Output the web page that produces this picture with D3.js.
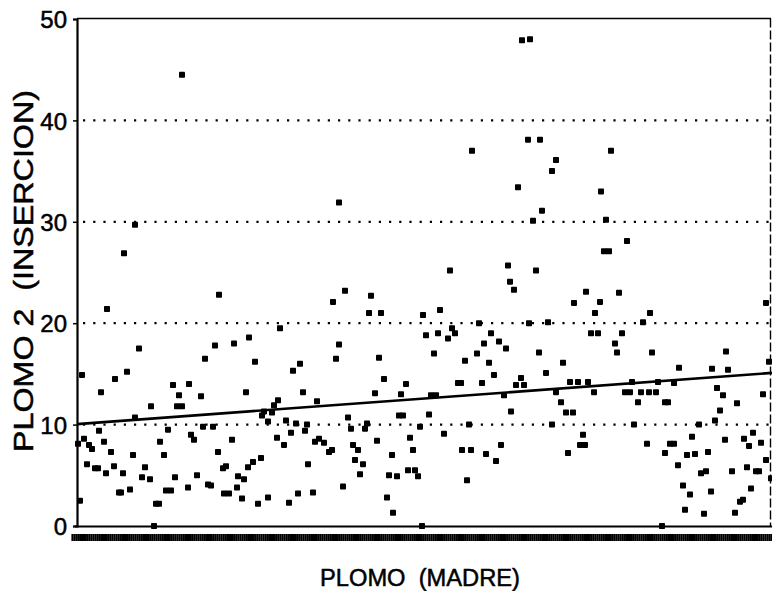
<!DOCTYPE html>
<html lang="es">
<head>
    <meta charset="UTF-8">
    <title>Plomo madre vs inserción</title>
    <script src="https://cdn.jsdelivr.net/npm/d3@7"></script>
    <style>
        body { margin: 0; background: #fff; }
        svg text { font-family: "Liberation Sans", Arial, sans-serif; fill: #000; stroke: #000; stroke-width: 0.5px; }
    </style>
</head>
<body>
<svg width="772" height="591"></svg>
<script>
    // plomo en la madre (eje x, sin escala impresa) y plomo 2 en la inserción (eje y)
    var plomoMadre = [
        5.8, 4.7, 3.0, 14.2, 6.2, 0.5, 3.8, 5.0, 2.4, 13.8,
        12.8, 15.7, 17.2, 17.8, 20.3, 21.6, 22.3, 22.6, 16.9, 9.6,
        11.2, 10.2, 12.4, 7.4, 10.0, 10.5, 5.8, 20.1, 19.7, 18.7,
        19.5, 18.5, 19.1, 20.9, 21.9, 23.0, 21.4, 22.8, 12.6, 13.6,
        9.1, 11.4, 11.7, 15.5, 8.3, 0.1, 0.7, 1.2, 1.5, 2.2,
        2.7, 3.4, 5.6, 8.7, 14.1, 20.0, 20.7, 18.4, 17.6, 17.1,
        14.9, 14.6, 1.0, 1.8, 2.1, 3.7, 2.9, 4.6, 6.8, 6.5,
        7.3, 9.8, 12.0, 13.1, 13.4, 16.1, 16.7, 23.1, 4.2, 4.4,
        5.3, 8.9, 9.4, 11.1, 14.7, 15.2, 16.0, 16.5, 18.1, 19.1,
        21.2, 22.1, 0.3, 7.9, 8.2, 7.7, 10.5,

        44.5, 45.3, 45.1, 46.3, 39.5, 44.1, 26.2, 45.6, 43.1, 45.9,
        37.3, 43.3, 43.7, 26.8, 25.6, 29.4, 29.2, 30.4, 34.6, 36.3,
        40.2, 45.2, 34.9, 36.1, 37.5, 37.8, 37.1, 41.4, 42.2, 40.7,
        42.9, 26.2, 25.9, 30.2, 35.7, 40.0, 38.8, 41.2, 46.2, 41.7,
        30.7, 32.9, 38.1, 38.4, 40.5, 44.4, 43.9, 44.7, 29.8, 32.4,
        35.4, 35.9, 24.0, 42.7, 43.4, 35.2, 32.2, 32.6, 27.1, 27.4,
        29.0, 28.8, 34.3, 39.2, 36.7, 23.8, 24.2, 24.7, 25.2, 25.5,
        27.6, 28.1, 30.0, 33.3, 33.6, 31.5, 27.8, 28.6, 28.3, 31.2,
        32.0, 33.1, 33.8, 34.1, 38.5, 39.4, 40.9, 42.4, 41.9, 39.0,
        26.6, 23.6, 31.0, 31.6, 34.5,

        47.9, 47.5, 53.4, 52.4, 46.5, 52.9, 55.0, 52.7, 53.2, 50.9,
        49.7, 52.3, 51.8, 54.2, 57.3, 68.9, 47.1, 56.6, 51.4, 52.1,
        54.5, 53.8, 54.0, 57.5, 48.6, 46.9, 64.9, 69.2, 60.2, 63.5,
        65.1, 49.3, 50.1, 51.1, 55.5, 58.1, 59.7, 47.9, 51.7, 54.8,
        55.3, 56.4, 57.2, 57.9, 56.1, 58.8, 59.1, 64.0, 64.6, 66.0,
        68.6, 48.4, 48.9, 49.6, 64.3, 63.8, 47.5, 55.7, 62.2, 61.5,
        67.6, 50.6, 50.3, 50.8, 57.0, 59.3, 59.7, 64.8, 66.7, 67.2,
        68.4, 49.1, 58.8, 61.0, 61.8, 63.1, 60.1, 68.9, 62.4, 62.9,
        65.5, 67.0, 67.9, 68.2, 69.4, 60.6, 61.3, 63.4, 67.4, 66.3,
        66.6, 60.8, 62.7, 65.8, 58.5
    ];
    var plomoInsercion = [
        29.7, 26.9, 21.4, 22.8, 17.5, 14.9, 14.5, 15.2, 13.2, 17.8,
        16.5, 18.0, 18.6, 16.2, 19.5, 15.3, 16.0, 13.2, 13.2, 13.9,
        14.0, 12.9, 12.8, 11.8, 11.8, 11.8, 10.7, 12.4, 11.9, 11.3,
        11.2, 10.9, 10.3, 10.4, 10.1, 10.0, 9.2, 9.4, 9.8, 9.8,
        9.5, 9.0, 8.5, 8.5, 8.3, 8.1, 8.6, 8.0, 7.6, 9.4,
        8.3, 7.3, 7.0, 7.0, 7.3, 8.7, 8.0, 6.7, 6.3, 5.8,
        5.9, 5.7, 6.1, 5.7, 5.7, 5.9, 5.2, 5.2, 5.8, 4.8,
        4.6, 4.8, 5.0, 4.1, 4.0, 4.9, 4.6, 6.1, 3.3, 3.3,
        3.6, 3.5, 3.5, 3.8, 3.2, 3.2, 3.8, 2.7, 2.2, 2.8,
        2.3, 3.2, 2.5, 2.2, 2.2, 0.0, 44.5,

        47.9, 48.0, 38.1, 38.1, 37.0, 33.4, 31.9, 30.1, 25.7, 25.2,
        25.2, 24.1, 23.3, 23.2, 22.1, 22.7, 21.0, 21.0, 20.8, 21.3,
        20.0, 20.0, 18.8, 19.0, 19.5, 19.0, 18.5, 19.0, 18.2, 18.0,
        17.5, 17.9, 16.5, 16.6, 17.0, 17.0, 16.3, 16.1, 17.1, 14.9,
        14.5, 14.0, 14.1, 14.1, 14.1, 14.6, 13.9, 13.9, 13.1, 13.0,
        12.9, 12.9, 12.3, 12.9, 11.3, 11.0, 10.9, 10.9, 10.7, 9.6,
        10.1, 9.6, 9.8, 10.0, 9.1, 8.3, 8.6, 8.2, 7.3, 7.5,
        8.0, 7.5, 8.4, 8.7, 7.5, 7.0, 6.5, 6.1, 5.1, 5.0,
        4.9, 5.5, 5.5, 4.9, 7.5, 7.5, 7.1, 8.0, 6.4, 4.5,
        3.9, 3.3, 2.8, 1.3, 0.0,

        36.1, 35.0, 37.0, 33.0, 31.1, 30.2, 28.1, 27.1, 27.1, 23.1,
        22.0, 22.1, 21.0, 23.0, 21.0, 22.0, 20.1, 20.1, 19.0, 19.0,
        19.0, 18.0, 17.1, 17.1, 16.1, 15.1, 17.2, 16.2, 15.6, 15.5,
        15.4, 14.2, 14.2, 14.2, 14.2, 14.2, 14.1, 13.2, 13.2, 13.2,
        13.2, 13.2, 13.2, 13.2, 12.2, 12.2, 12.2, 13.6, 12.9, 12.1,
        13.0, 12.2, 11.2, 11.2, 11.4, 10.4, 10.0, 10.0, 10.0, 8.8,
        9.2, 9.0, 8.0, 8.0, 8.1, 8.1, 8.1, 8.5, 8.6, 7.9,
        8.2, 7.2, 7.2, 7.0, 7.1, 7.3, 6.0, 6.5, 5.2, 5.4,
        5.4, 5.8, 5.4, 5.4, 4.7, 4.0, 3.1, 3.4, 3.7, 2.4,
        2.6, 1.6, 1.2, 1.3, 0.0
    ];
    // recta de regresión: extremos
    var rectaX = [0, 69.5];
    var rectaY = [10.05, 15.1];
    var yTicks = [0, 10, 20, 30, 40, 50];
    var gridTicks = [10, 20, 30, 40];

    var svg = d3.select("svg");
    var plotLeft = 77, plotRight = 772, plotTop = 19, plotBottom = 526;

    var x = d3.scaleLinear().domain([0, 69.5]).range([plotLeft, plotRight]);
    var y = d3.scaleLinear().domain([0, 50]).range([plotBottom, plotTop]);

    // cuadrícula punteada
    svg.selectAll("line.grid")
        .data(gridTicks)
        .enter()
        .append("line")
        .attr("class", "grid")
        .attr("x1", plotLeft + 6)
        .attr("x2", plotRight)
        .attr("y1", function (d) { return y(d); })
        .attr("y2", function (d) { return y(d); })
        .attr("stroke", "#000")
        .attr("stroke-width", 2.2)
        .attr("stroke-dasharray", "2.2,8");

    // marco
    svg.append("line")
        .attr("x1", plotLeft).attr("x2", plotRight - 1)
        .attr("y1", plotTop - 0.5).attr("y2", plotTop - 0.5)
        .attr("stroke", "#000").attr("stroke-width", 1.6);
    svg.append("line")
        .attr("x1", plotRight - 1.5).attr("x2", plotRight - 1.5)
        .attr("y1", plotTop - 0.5).attr("y2", plotBottom)
        .attr("stroke", "#000").attr("stroke-width", 1.4)
        .attr("stroke-dasharray", "9,3");

    // eje y
    var yAxis = d3.axisLeft(y).tickValues(yTicks).tickSize(4).tickPadding(6);
    var gy = svg.append("g")
        .attr("transform", "translate(" + plotLeft + ",0)")
        .call(yAxis);
    gy.select(".domain").attr("stroke-width", 2.2);
    gy.selectAll(".tick line").attr("stroke-width", 1.5);
    gy.selectAll(".tick text")
        .style("font-size", "24px")
        .attr("dy", "0.36em");

    // eje x: línea base y banda densa de marcas
    svg.append("line")
        .attr("x1", plotLeft - 2).attr("x2", plotRight)
        .attr("y1", plotBottom + 0.5).attr("y2", plotBottom + 0.5)
        .attr("stroke", "#000").attr("stroke-width", 2);
    var xAxis = d3.axisBottom(x)
        .tickValues(d3.range(-0.5, 69.6, 0.21))
        .tickSize(7)
        .tickFormat("");
    var gx = svg.append("g")
        .attr("transform", "translate(0," + (plotBottom + 8) + ")")
        .call(xAxis);
    gx.select(".domain").remove();
    gx.selectAll(".tick line").attr("stroke-width", 2.2);

    // puntos
    svg.selectAll("rect.pt")
        .data(plomoMadre)
        .enter()
        .append("rect")
        .attr("class", "pt")
        .attr("x", function (d) { return x(d) - 3; })
        .attr("y", function (d, i) { return y(plomoInsercion[i]) - 3; })
        .attr("width", 6)
        .attr("height", 6)
        .attr("rx", 0.8)
        .attr("fill", "#000");

    // recta de regresión
    svg.append("line")
        .attr("x1", x(rectaX[0])).attr("y1", y(rectaY[0]))
        .attr("x2", x(rectaX[1])).attr("y2", y(rectaY[1]))
        .attr("stroke", "#000")
        .attr("stroke-width", 2.6);

    // títulos
    svg.append("text")
        .attr("x", 420)
        .attr("y", 586)
        .attr("text-anchor", "middle")
        .attr("textLength", 200)
        .attr("lengthAdjust", "spacingAndGlyphs")
        .style("font-size", "23px")
        .style("white-space", "pre")
        .text("PLOMO  (MADRE)");
    svg.append("text")
        .attr("transform", "translate(33,271) rotate(-90)")
        .attr("text-anchor", "middle")
        .attr("textLength", 362)
        .attr("lengthAdjust", "spacingAndGlyphs")
        .style("font-size", "27px")
        .style("white-space", "pre")
        .text("PLOMO 2  (INSERCION)");
</script>
</body>
</html>
